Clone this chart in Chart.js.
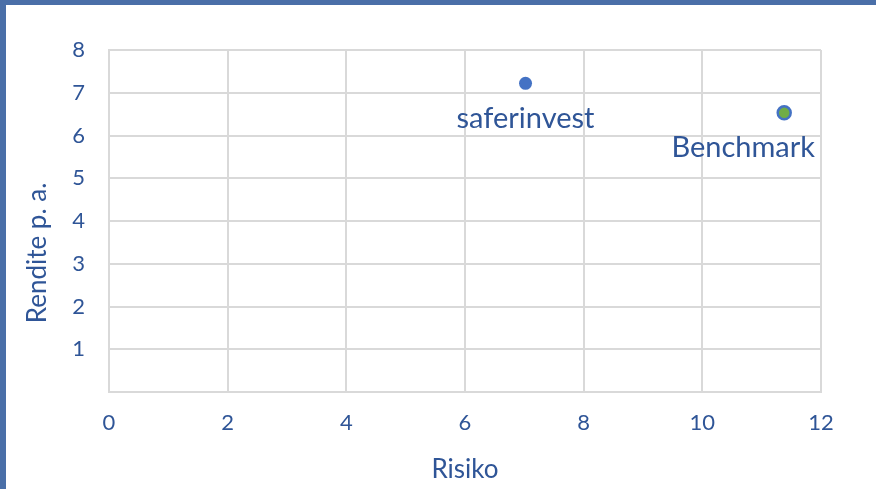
<!DOCTYPE html>
<html>
<head>
<meta charset="utf-8">
<script src="https://cdn.jsdelivr.net/npm/chart.js@4"></script>
<style>
body { margin: 0; background: #fff; }
#wrap { width: 870px; height: 484px; border-top: 5px solid #4a6fa8; border-left: 6px solid #4a6fa8; }
</style>
</head>
<body>
<div id="wrap"><canvas id="scatter-chart" width="870" height="484"></canvas></div>
<script>
// Werte
var names = ["saferinvest", "Benchmark"];
var risiko = [7.02, 11.38];
var rendite = [7.22, 6.53];
var fills = ["#4472c4", "#70ad47"];

var textBlue = "#2f5597";
var font = "Lato, 'Open Sans', sans-serif";

// Beschriftung unter den Punkten + Titel der y-Achse
var pointLabels = {
    id: "pointLabels",
    afterDatasetsDraw: function (chart) {
        var ctx = chart.ctx;
        var area = chart.chartArea;
        ctx.save();
        ctx.font = "29px " + font;
        ctx.fillStyle = textBlue;
        ctx.textAlign = "center";
        ctx.textBaseline = "middle";
        chart.data.datasets.forEach(function (ds, i) {
            var el = chart.getDatasetMeta(i).data[0];
            var w = ctx.measureText(ds.label).width;
            var x = Math.min(el.x, area.right - 6 - w / 2);
            ctx.fillText(ds.label, x, el.y + 35);
        });
        // y-Titel etwas unterhalb der Mitte, wie im Original
        ctx.font = "26px " + font;
        ctx.translate(32, 248);
        ctx.rotate(-Math.PI / 2);
        ctx.fillText("Rendite p. a.", 0, 0);
        ctx.restore();
    }
};

new Chart(document.getElementById("scatter-chart"), {
    type: 'scatter',
    data: {
        datasets: names.map(function (n, i) {
            return {
                label: n,
                data: [{ x: risiko[i], y: rendite[i] }],
                backgroundColor: fills[i],
                borderColor: "#4472c4",
                borderWidth: i == 1 ? 2.5 : 0,
                pointRadius: 6.5,
                pointHoverRadius: 6.5
            };
        })
    },
    options: {
        responsive: false,
        animation: false,
        layout: { padding: { top: 45, right: 55, left: 0, bottom: 0 } },
        plugins: {
            legend: { display: false },
            tooltip: { enabled: false }
        },
        scales: {
            x: {
                min: 0,
                max: 12,
                ticks: { stepSize: 2, color: textBlue, padding: 18, font: { family: font, size: 22 } },
                grid: { color: "#d9d9d9", lineWidth: 2, drawTicks: false },
                border: { color: "#d9d9d9", width: 2 },
                title: { display: true, text: "Risiko", color: textBlue, padding: { top: 14 }, font: { family: font, size: 26 } },
                afterFit: function (s) { s.height = 97; }
            },
            y: {
                min: 0,
                max: 8,
                ticks: {
                    stepSize: 1,
                    color: textBlue,
                    padding: 24,
                    font: { family: font, size: 22 },
                    callback: function (v) { return v == 0 ? "" : v; }
                },
                grid: { color: "#d9d9d9", lineWidth: 2, drawTicks: false },
                border: { color: "#d9d9d9", width: 2 },
                afterFit: function (s) { s.width = 103; }
            }
        }
    },
    plugins: [pointLabels]
});
</script>
</body>
</html>
